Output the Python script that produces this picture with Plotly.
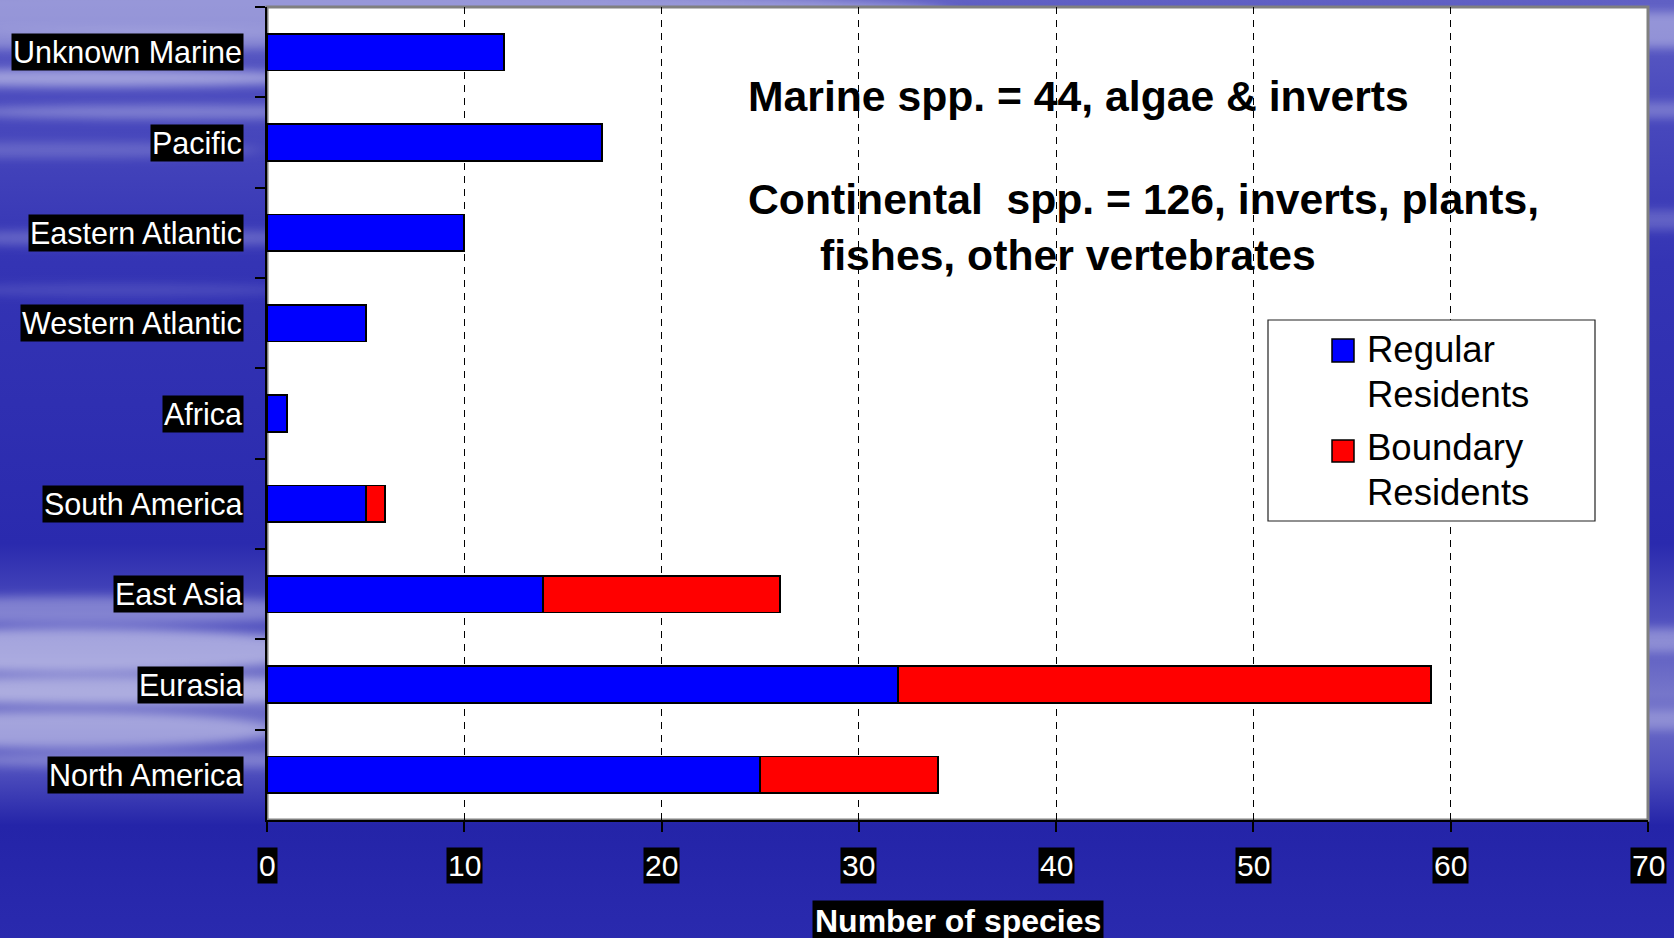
import base64
import plotly.graph_objects as go

# ---- data -------------------------------------------------------------
regions = ["Unknown Marine", "Pacific", "Eastern Atlantic", "Western Atlantic",
           "Africa", "South America", "East Asia", "Eurasia", "North America"]
marine = ["Unknown Marine", "Pacific", "Eastern Atlantic", "Western Atlantic"]
regular_residents = [12, 17, 10, 5, 1, 5, 14, 32, 25]
boundary_residents = [0, 0, 0, 0, 0, 1, 12, 27, 9]
x_ticks = [0, 10, 20, 30, 40, 50, 60, 70]

marine_total = sum(r + b for n, r, b in zip(regions, regular_residents, boundary_residents) if n in marine)
continental_total = sum(r + b for n, r, b in zip(regions, regular_residents, boundary_residents) if n not in marine)

# ---- geometry (pixels) -------------------------------------------------
W, H = 1674, 938
L, R, T, B = 267, 1648, 7, 820
PW, PH = R - L, B - T


def fx(px):
    return (px - L) / PW


def fy(py):
    return (B - py) / PH


FONT = "Liberation Sans, Arial, sans-serif"

# ---- ocean style backdrop ---------------------------------------------
streaks = [
    (250, 12, 700, 22, 0.35), (120, 40, 260, 10, 0.30), (90, 78, 240, 9, 0.45),
    (180, 112, 220, 7, 0.30), (60, 150, 200, 8, 0.18), (140, 238, 240, 8, 0.22),
    (120, 290, 180, 6, 0.12), (1660, 30, 120, 18, 0.35), (1660, 110, 80, 8, 0.25),
    (1660, 220, 80, 10, 0.20), (90, 610, 250, 14, 0.30), (70, 650, 260, 22, 0.45),
    (120, 690, 260, 14, 0.40), (60, 730, 220, 18, 0.40), (160, 760, 220, 8, 0.25),
    (1660, 640, 80, 12, 0.30), (1660, 720, 80, 10, 0.25),
]
ellipses = "".join(
    f"<ellipse cx='{cx}' cy='{cy}' rx='{rx}' ry='{ry}' opacity='{op}'/>"
    for cx, cy, rx, ry, op in streaks
)
svg = f"""<svg xmlns='http://www.w3.org/2000/svg' width='{W}' height='{H}' viewBox='0 0 {W} {H}'>
<defs>
<linearGradient id='g' x1='0' y1='0' x2='0' y2='1'>
<stop offset='0' stop-color='#6060c4'/>
<stop offset='0.10' stop-color='#4c4cbe'/>
<stop offset='0.28' stop-color='#3434b4'/>
<stop offset='0.58' stop-color='#2a2aae'/>
<stop offset='0.66' stop-color='#5050be'/>
<stop offset='0.74' stop-color='#7676ca'/>
<stop offset='0.82' stop-color='#5050be'/>
<stop offset='0.88' stop-color='#2424a8'/>
<stop offset='1' stop-color='#2a2aae'/>
</linearGradient>
<filter id='b' x='-50%' y='-300%' width='200%' height='700%'><feGaussianBlur stdDeviation='10 5'/></filter>
</defs>
<rect width='{W}' height='{H}' fill='url(#g)'/>
<g filter='url(#b)' fill='#ffffff'>{ellipses}</g>
</svg>"""
bg_uri = "data:image/svg+xml;base64," + base64.b64encode(svg.encode()).decode()

# ---- bars ---------------------------------------------------------------
fig = go.Figure()
fig.add_trace(go.Bar(
    y=regions, x=regular_residents, orientation="h", name="Regular Residents",
    marker=dict(color="#0000ff", line=dict(color="black", width=1.8)),
))
fig.add_trace(go.Bar(
    y=regions, x=boundary_residents, orientation="h", name="Boundary Residents",
    marker=dict(color="#ff0000", line=dict(color="black", width=1.8)),
))

shapes = [
    # white plot area with grey frame
    dict(type="rect", xref="paper", yref="paper", x0=0, x1=1, y0=0, y1=1,
         fillcolor="white", line=dict(color="#808080", width=3), layer="below"),
    # legend box and swatches
    dict(type="rect", xref="paper", yref="paper", x0=fx(1268), x1=fx(1595), y0=fy(521), y1=fy(320),
         fillcolor="white", line=dict(color="#222222", width=1.2), layer="above"),
    dict(type="rect", xref="paper", yref="paper", x0=fx(1332), x1=fx(1354), y0=fy(362), y1=fy(339),
         fillcolor="#0000ff", line=dict(color="black", width=1.5), layer="above"),
    dict(type="rect", xref="paper", yref="paper", x0=fx(1332), x1=fx(1354), y0=fy(462), y1=fy(440),
         fillcolor="#ff0000", line=dict(color="black", width=1.5), layer="above"),
]

annotations = []
# category labels, white on black
for name in regions:
    annotations.append(dict(
        x=fx(244), xref="paper", xanchor="right", y=name, yref="y", yanchor="middle",
        text=name, showarrow=False, bgcolor="black", borderpad=1,
        font=dict(family=FONT, size=30.5, color="white"),
    ))
# value axis tick labels
for v in x_ticks:
    annotations.append(dict(
        x=v, xref="x", xanchor="center", y=fy(866), yref="paper", yanchor="middle",
        text=str(v), showarrow=False, bgcolor="black", borderpad=1,
        font=dict(family=FONT, size=30, color="white"),
    ))
# axis title
annotations.append(dict(
    x=35, xref="x", xanchor="center", y=fy(921), yref="paper", yanchor="middle",
    text="<b>Number of species</b>", showarrow=False, bgcolor="black", borderpad=2,
    font=dict(family=FONT, size=32, color="white"),
))
# summary text
for txt, px, py in [
    (f"Marine spp. = {marine_total}, algae &amp; inverts", 746, 96),
    (f"Continental\u00a0 spp. = {continental_total}, inverts, plants,", 746, 199),
    ("fishes, other vertebrates", 818, 255),
]:
    annotations.append(dict(
        x=fx(px), xref="paper", xanchor="left", y=fy(py), yref="paper", yanchor="middle",
        text=f"<b>{txt}</b>", showarrow=False,
        font=dict(family=FONT, size=42.7, color="black"),
    ))
# legend entries
for txt, py in [("Regular", 350), ("Residents", 394), ("Boundary", 447), ("Residents", 492)]:
    annotations.append(dict(
        x=fx(1365), xref="paper", xanchor="left", y=fy(py), yref="paper", yanchor="middle",
        text=txt, showarrow=False, font=dict(family=FONT, size=36.5, color="black"),
    ))

fig.update_layout(
    width=W, height=H,
    margin=dict(l=L, r=W - R, t=T, b=H - B, pad=0),
    barmode="stack", bargap=0.595,
    showlegend=False,
    paper_bgcolor="#2a2aae", plot_bgcolor="rgba(0,0,0,0)",
    font=dict(family=FONT),
    images=[dict(source=bg_uri, xref="paper", yref="paper",
                 x=fx(0), y=fy(0), sizex=W / PW, sizey=H / PH,
                 sizing="stretch", xanchor="left", yanchor="top", layer="below")],
    shapes=shapes,
    annotations=annotations,
    xaxis=dict(range=[0, 70], tick0=0, dtick=10, showticklabels=False,
               showgrid=True, gridcolor="black", gridwidth=1, griddash="7px,6px",
               zeroline=False, showline=True, linecolor="black", linewidth=2,
               ticks="outside", ticklen=10, tickwidth=1.5, tickcolor="black"),
    yaxis=dict(type="category", categoryorder="array", categoryarray=regions,
               autorange="reversed", showticklabels=False, showgrid=False,
               zeroline=False, showline=True, linecolor="black", linewidth=2,
               ticks="outside", tickson="boundaries", ticklen=10, tickwidth=1.5,
               tickcolor="black"),
)

fig.write_html("out.html")
